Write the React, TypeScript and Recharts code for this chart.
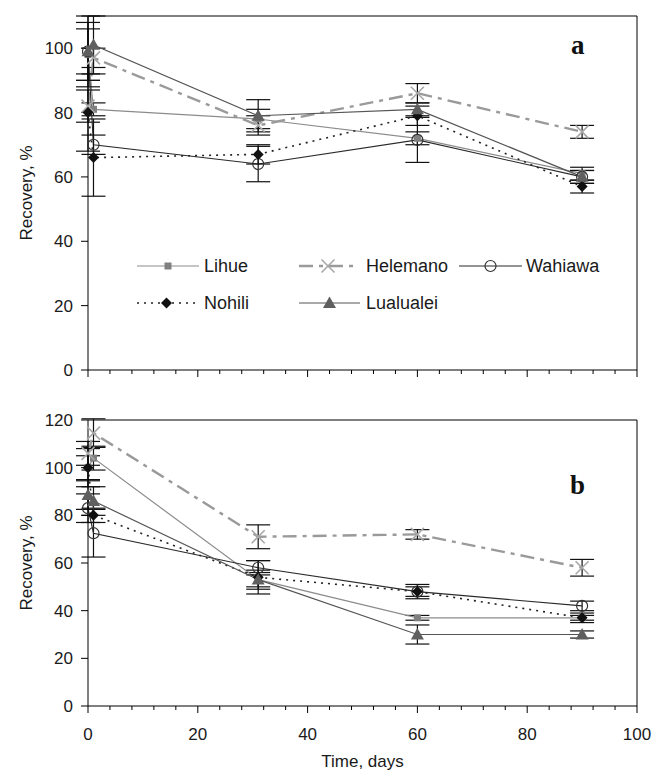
import React from "react";
import { LineChart, Line, XAxis, YAxis, ErrorBar, ReferenceLine, Legend } from "recharts";

// sampling days (two points at the start, then roughly monthly)
const days = [0, 1, 31, 60, 90];

const xTicks = [0, 4, 8, 12, 16, 20, 24, 28, 32, 36, 40, 44, 48, 52, 56, 60, 64, 68, 72, 76, 80, 84, 88, 92, 96, 100];
const yTicksA = [0, 20, 40, 60, 80, 100];
const yTicksB = [0, 20, 40, 60, 80, 100, 120];

// panel a
const lihueA = [98, 81, 78, 72, 61];
const lihueErrA = [8, 2, 3, 2, 2];
const helemanoA = [82, 97, 76, 86, 74];
const helemanoErrA = [5, 3, 3, 3, 2];
const wahiawaA = [99, 70, 64, 71.5, 60];
const wahiawaErrA = [11, 3, 5.5, 7, 2];
const nohiliA = [80, 66, 67, 79, 57];
const nohiliErrA = [12, 12, 3, 3, 2];
const lualualeiA = [99, 101, 79, 81, 60];
const lualualeiErrA = [9, 9, 5, 2, 2];

// panel b
const lihueB = [100, 104, 53, 37, 37];
const lihueErrB = [5, 5, 3, 1, 1];
const helemanoB = [106, 114.5, 71, 72, 58];
const helemanoErrB = [5, 6, 5, 2, 3.5];
const wahiawaB = [83, 72.5, 58, 48, 42];
const wahiawaErrB = [6, 10, 3, 2, 2];
const nohiliB = [100, 80, 54, 48, 37];
const nohiliErrB = [8, 3, 7, 3, 2];
const lualualeiB = [88.5, 86, 53, 30, 30];
const lualualeiErrB = [6, 6, 4, 4, 1.5];

const FONT = "'Liberation Sans', Arial, sans-serif";
const INK = "#1a1a1a";

const toRows = (vals, errs) => days.map((t, i) => ({ t, v: vals[i], e: errs[i] }));

const Square = ({ cx, cy, s = 7, fill = "#808080" }) => (
  <rect x={cx - s / 2} y={cy - s / 2} width={s} height={s} fill={fill} />
);
const Cross = ({ cx, cy, s = 6.5, stroke = "#a8a8a8" }) => (
  <g stroke={stroke} strokeWidth={1.6}>
    <line x1={cx - s} y1={cy - s} x2={cx + s} y2={cy + s} />
    <line x1={cx - s} y1={cy + s} x2={cx + s} y2={cy - s} />
  </g>
);
const Circle = ({ cx, cy, r = 5.5 }) => (
  <circle cx={cx} cy={cy} r={r} fill="none" stroke="#333" strokeWidth={1.2} />
);
const Diamond = ({ cx, cy, s = 5.5 }) => (
  <polygon points={`${cx},${cy - s} ${cx + s},${cy} ${cx},${cy + s} ${cx - s},${cy}`} fill="#111" />
);
const Triangle = ({ cx, cy, s = 6.5 }) => (
  <polygon points={`${cx},${cy - s} ${cx + s},${cy + s * 0.75} ${cx - s},${cy + s * 0.75}`} fill="#5f5f5f" />
);

const SERIES = [
  { key: "lihue", name: "Lihue", color: "#8c8c8c", width: 1.2, dash: undefined, Marker: Square },
  { key: "helemano", name: "Helemano", color: "#9a9a9a", width: 2.4, dash: "14 6 4 6", Marker: Cross },
  { key: "wahiawa", name: "Wahiawa", color: "#2a2a2a", width: 1.1, dash: undefined, Marker: Circle },
  { key: "nohili", name: "Nohili", color: "#222", width: 1.6, dash: "2 5", Marker: Diamond },
  { key: "lualualei", name: "Lualualei", color: "#555", width: 1.2, dash: undefined, Marker: Triangle },
];

const panelA = {
  lihue: toRows(lihueA, lihueErrA),
  helemano: toRows(helemanoA, helemanoErrA),
  wahiawa: toRows(wahiawaA, wahiawaErrA),
  nohili: toRows(nohiliA, nohiliErrA),
  lualualei: toRows(lualualeiA, lualualeiErrA),
};
const panelB = {
  lihue: toRows(lihueB, lihueErrB),
  helemano: toRows(helemanoB, helemanoErrB),
  wahiawa: toRows(wahiawaB, wahiawaErrB),
  nohili: toRows(nohiliB, nohiliErrB),
  lualualei: toRows(lualualeiB, lualualeiErrB),
};

const XTick = ({ x, y, payload, showLabels }) => {
  const major = payload.value % 20 === 0;
  return (
    <g>
      <line x1={x} x2={x} y1={y} y2={y + (major ? 7 : 4)} stroke="#000" />
      {showLabels && major && (
        <text x={x} y={y + 28} textAnchor="middle" dominantBaseline="central" fontSize={17} fill={INK} fontFamily={FONT}>
          {payload.value}
        </text>
      )}
    </g>
  );
};

const YTitle = ({ viewBox, fallbackY }) => {
  const cy = viewBox && viewBox.height ? viewBox.y + viewBox.height / 2 : fallbackY;
  const cx = 26;
  return (
    <text x={cx} y={cy} transform={`rotate(-90 ${cx} ${cy})`} textAnchor="middle" dominantBaseline="central"
      fontSize={17} fill={INK} fontFamily={FONT}>
      Recovery, %
    </text>
  );
};

const XTitle = ({ viewBox }) => {
  const cx = viewBox ? viewBox.x + viewBox.width / 2 : 362;
  return (
    <text x={cx} y={361} textAnchor="middle" dominantBaseline="central" fontSize={17} fill={INK} fontFamily={FONT}>
      Time, days
    </text>
  );
};

// legend layout inside panel a
const LEGEND_POS = [
  { x1: 137, x2: 199, tx: 204, y: 266 },
  { x1: 299, x2: 357, tx: 366, y: 266 },
  { x1: 459, x2: 522, tx: 526, y: 266 },
  { x1: 137, x2: 196, tx: 204, y: 303 },
  { x1: 299, x2: 360, tx: 366, y: 303 },
];

const LegendBox = () => (
  <svg width={653} height={390} style={{ position: "absolute", left: 0, top: 0, pointerEvents: "none" }}>
    {SERIES.map((s, i) => {
      const p = LEGEND_POS[i];
      const M = s.Marker;
      return (
        <g key={s.key}>
          <line x1={p.x1} x2={p.x2} y1={p.y} y2={p.y} stroke={s.color} strokeWidth={s.width} strokeDasharray={s.dash} />
          <M cx={(p.x1 + p.x2) / 2} cy={p.y} />
          <text x={p.tx} y={p.y} dominantBaseline="central" fontSize={18} fill={INK} fontFamily={FONT}>
            {s.name}
          </text>
        </g>
      );
    })}
  </svg>
);

function Panel({ data, yMax, yTicks, height, marginTop, xHeight, showXLabels, withLegend }) {
  return (
    <LineChart width={653} height={height} margin={{ top: marginTop, right: 16, bottom: 0, left: 0 }}>
      <XAxis
        type="number"
        dataKey="t"
        domain={[0, 100]}
        ticks={xTicks}
        interval={0}
        tickLine={false}
        tickSize={0}
        tickMargin={0}
        height={xHeight}
        axisLine={{ stroke: "#000" }}
        tick={<XTick showLabels={showXLabels} />}
        label={showXLabels ? <XTitle /> : undefined}
        allowDuplicatedCategory={false}
      />
      <YAxis
        type="number"
        domain={[0, yMax]}
        ticks={yTicks}
        interval={0}
        width={88}
        tickSize={7}
        tickMargin={8}
        allowDataOverflow
        axisLine={{ stroke: "#000" }}
        tickLine={{ stroke: "#000" }}
        tick={{ fontSize: 17, fill: INK, fontFamily: FONT }}
        label={<YTitle fallbackY={200} />}
      />
      <ReferenceLine y={yMax} stroke="#000" />
      <ReferenceLine x={100} stroke="#000" />
      {SERIES.map((s) => {
        const M = s.Marker;
        return (
          <Line
            key={s.key}
            data={data[s.key]}
            dataKey="v"
            name={s.name}
            stroke={s.color}
            strokeWidth={s.width}
            strokeDasharray={s.dash}
            isAnimationActive={false}
            dot={(p) => <M key={`${s.key}-${p.index}`} cx={p.cx} cy={p.cy} />}
            activeDot={false}
          >
            <ErrorBar dataKey="e" direction="y" width={12} stroke="#111" strokeWidth={1.2} isAnimationActive={false} />
          </Line>
        );
      })}
      {withLegend && (
        <Legend
          layout="horizontal"
          verticalAlign="middle"
          align="center"
          wrapperStyle={{ position: "absolute", left: 0, top: 0, width: 653, height: 390 }}
          content={() => <LegendBox />}
        />
      )}
    </LineChart>
  );
}

export default function App() {
  return (
    <div style={{ position: "relative", width: 653, height: 773, background: "#fff", overflow: "hidden" }}>
      <style>{`body{margin:0;background:#fff}`}</style>
      <div style={{ position: "absolute", left: 0, top: 0 }}>
        <Panel data={panelA} yMax={110} yTicks={yTicksA} height={390} marginTop={16} xHeight={20}
          showXLabels={false} withLegend />
      </div>
      <div style={{ position: "absolute", left: 0, top: 400 }}>
        <Panel data={panelB} yMax={120} yTicks={yTicksB} height={373} marginTop={20} xHeight={67}
          showXLabels withLegend={false} />
      </div>
      <div style={{ position: "absolute", left: 571, top: 30, font: "bold 27px 'Liberation Serif', serif", color: "#111" }}>a</div>
      <div style={{ position: "absolute", left: 570, top: 470, font: "bold 27px 'Liberation Serif', serif", color: "#111" }}>b</div>
    </div>
  );
}
